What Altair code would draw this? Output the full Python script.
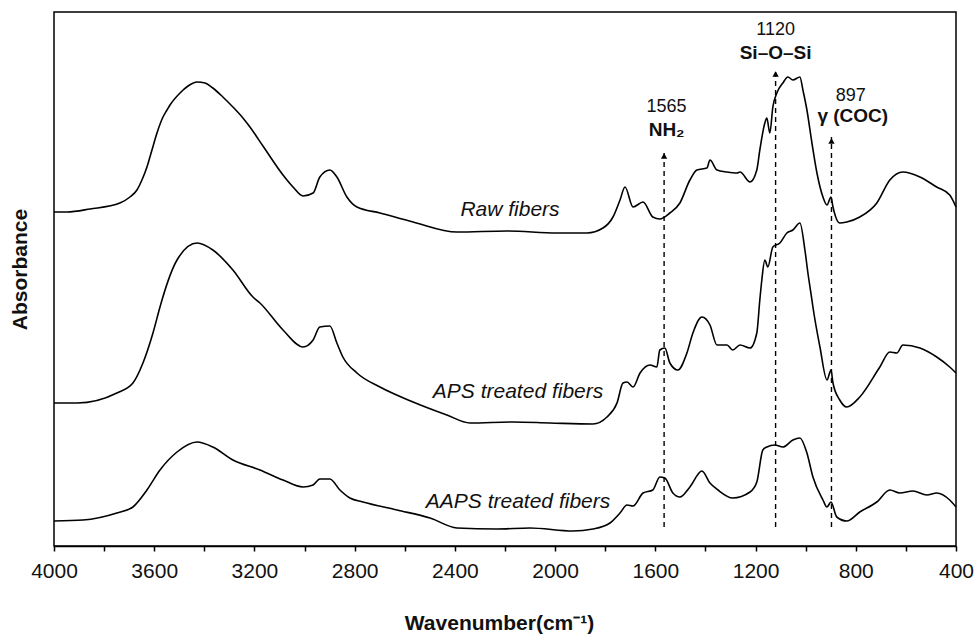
import altair as alt
import pandas as pd

FONT = "Liberation Sans"

# ---- spectra (wavenumber, stacked absorbance in arbitrary units) ----
raw_wn = [4000, 3948, 3856, 3737, 3697, 3669, 3649, 3629, 3609, 3589, 3565, 3549, 3537, 3497, 3465,
          3429, 3397, 3366, 3326, 3286, 3246, 3218, 3166, 3086, 3046,
          3006, 2966, 2939, 2899, 2871, 2831, 2791, 2699, 2567, 2392, 2192, 1993, 1873, 1809, 1769,
          1741, 1721, 1689, 1649, 1610, 1582, 1542, 1502, 1462, 1434, 1394, 1382, 1354, 1314, 1274,
          1262, 1222, 1195, 1183, 1163, 1155, 1143, 1131, 1115, 1091, 1071, 1051, 1023, 1011, 995,
          975, 955, 931, 915, 899, 891, 864, 836, 784, 716, 664, 612, 544, 477, 425, 400]
raw_ab = [334, 334, 337, 343, 349, 356, 366, 379, 396, 413, 429, 436, 441, 453, 460,
          464, 463, 458, 449, 439, 428, 419, 400, 371, 359,
          350, 353, 369, 376, 369, 349, 339, 333, 324, 314, 315, 313, 313, 318, 329,
          346, 359, 339, 344, 329, 327, 333, 343, 366, 376, 378, 386, 376, 374, 373,
          374, 364, 376, 396, 423, 428, 413, 439, 453, 463, 469, 466, 469, 456, 436,
          403, 373, 349, 341, 349, 339, 323, 324, 329, 343, 366, 374, 369, 359, 351, 339]

aps_wn = [4000, 3908, 3749, 3685, 3645, 3605, 3577, 3569, 3509, 3429, 3366, 3286, 3206, 3178, 3086,
          3006, 2966, 2939, 2899, 2871, 2847, 2791, 2699, 2567, 2432, 2340, 2168, 2021, 1849, 1793,
          1753, 1729, 1713, 1689, 1661, 1621, 1594, 1582, 1562, 1542, 1510, 1474, 1450, 1414, 1382,
          1354, 1314, 1291, 1262, 1222, 1195, 1183, 1175, 1163, 1151, 1131, 1103, 1075, 1051, 1023,
          1003, 991, 975, 971, 943, 915, 899, 891, 864, 836, 784, 704, 664, 636, 612, 544, 477, 425, 400]
aps_ab = [143, 143, 153, 163, 183, 213, 239, 246, 286, 303, 296, 276, 249, 243, 216,
          199, 206, 219, 220, 203, 189, 173, 159, 144, 131, 123, 124, 123, 122, 129,
          143, 163, 164, 159, 173, 181, 179, 196, 198, 183, 176, 193, 213, 229, 221,
          201, 201, 196, 201, 198, 213, 246, 266, 286, 279, 299, 303, 313, 316, 323,
          296, 273, 246, 239, 199, 166, 176, 163, 146, 139, 149, 179, 194, 193, 201, 198, 189, 179, 173]

aaps_wn = [4000, 3884, 3749, 3685, 3629, 3577, 3509, 3429, 3366, 3286, 3178, 3086, 3006, 2966, 2939,
           2899, 2859, 2819, 2767, 2631, 2499, 2392, 2232, 2101, 1929, 1849, 1781, 1741, 1713, 1689,
           1649, 1610, 1582, 1562, 1530, 1502, 1462, 1414, 1382, 1350, 1291, 1222, 1195, 1171, 1155,
           1123, 1091, 1051, 1023, 995, 971, 931, 915, 899, 876, 836, 784, 716, 664, 624, 572, 516,
           477, 425, 400]
aaps_ab = [25, 26, 33, 39, 56, 76, 94, 104, 99, 86, 76, 66, 59, 61, 67,
           67, 56, 48, 44, 36, 28, 18, 17, 18, 15, 17, 23, 33, 41, 40,
           53, 56, 69, 68, 53, 49, 59, 75, 63, 56, 48, 54, 64, 96, 99,
           101, 99, 106, 108, 93, 69, 46, 39, 44, 29, 25, 34, 44, 56, 53, 55, 51,
           53, 46, 39]

# ---- annotations ----
mark_wn = [1565, 1120, 897]
mark_bottom = [19, 19, 19]
mark_top = [394, 476, 409]
num_text = ["1565", "1120", "897"]
num_wn = [1555, 1120, 820]
num_ab = [439, 516, 450]
name_text = ["NH\u2082", "Si\u2013O\u2013Si", "\u03b3 (COC)"]
name_wn = [1555, 1120, 812]
name_ab = [416, 493, 430]
curve_text = ["Raw fibers", "APS treated fibers", "AAPS treated fibers"]
curve_wn = [2180, 2148, 2148]
curve_ab = [336, 154, 44]

spec = pd.concat([
    pd.DataFrame({"wn": raw_wn, "ab": raw_ab, "s": "Raw"}),
    pd.DataFrame({"wn": aps_wn, "ab": aps_ab, "s": "APS"}),
    pd.DataFrame({"wn": aaps_wn, "ab": aaps_ab, "s": "AAPS"}),
])
rules = pd.DataFrame({"wn": mark_wn, "ab": mark_bottom, "ab2": mark_top})
arrows = pd.DataFrame({"wn": mark_wn, "ab": [t - 4 for t in mark_top]})
nums = pd.DataFrame({"wn": num_wn, "ab": num_ab, "t": num_text})
names = pd.DataFrame({"wn": name_wn, "ab": name_ab, "t": name_text})
curves = pd.DataFrame({"wn": curve_wn, "ab": curve_ab, "t": curve_text})

xscale = alt.Scale(domain=[400, 4000], reverse=True, nice=False, zero=False)
yscale = alt.Scale(domain=[0, 534], nice=False, zero=False)

x_enc = alt.X(
    "wn:Q", scale=xscale,
    axis=alt.Axis(
        values=list(range(400, 4001, 200)), format="d",
        labelExpr="datum.value % 400 == 0 ? datum.label : ''",
        title="Wavenumber(cm\u207b\u00b9)", grid=False,
        domainColor="black", domainWidth=1.5, tickColor="black", tickWidth=1.5, tickSize=5,
        labelFont=FONT, labelFontSize=21, labelColor="#111", labelPadding=9,
        labelFlush=False, labelOverlap=False,
        titleFont=FONT, titleFontSize=21, titleFontWeight="bold", titleColor="#111",
        titleX=445, titleY=77, titleBaseline="middle", titleAlign="center",
    ),
)
y_enc = alt.Y(
    "ab:Q", scale=yscale,
    axis=alt.Axis(
        title="Absorbance", labels=False, ticks=False, domain=False, grid=False,
        titleFont=FONT, titleFontSize=21, titleFontWeight="bold", titleColor="#111",
        titleX=-34, titleY=257, titleBaseline="middle", titleAlign="center",
    ),
)

lines = alt.Chart(spec).mark_line(color="black", strokeWidth=1.6, interpolate="monotone").encode(
    x=x_enc, y=y_enc, detail="s:N", order=alt.Order("wn:Q", sort="descending")
)
dash = alt.Chart(rules).mark_rule(color="black", strokeWidth=1.4, strokeDash=[5, 4]).encode(
    x="wn:Q", y="ab:Q", y2="ab2:Q"
)
heads = alt.Chart(arrows).mark_point(shape="triangle-up", filled=True, color="black", size=40, opacity=1).encode(
    x="wn:Q", y="ab:Q"
)
num_lbl = alt.Chart(nums).mark_text(font=FONT, fontSize=18, color="#111", baseline="middle", align="center").encode(
    x="wn:Q", y="ab:Q", text="t:N"
)
name_lbl = alt.Chart(names).mark_text(font=FONT, fontSize=19, fontWeight="bold", color="#111", baseline="middle", align="center").encode(
    x="wn:Q", y="ab:Q", text="t:N"
)
curve_lbl = alt.Chart(curves).mark_text(font=FONT, fontSize=21, fontStyle="italic", color="#111", baseline="middle", align="center").encode(
    x="wn:Q", y="ab:Q", text="t:N"
)

chart = alt.layer(lines, dash, heads, num_lbl, name_lbl, curve_lbl).properties(
    width=902, height=534,
    autosize=alt.AutoSizeParams(type="none"),
    padding={"left": 54, "top": 12, "right": 21, "bottom": 88},
    background="white",
).configure_view(stroke="black", strokeWidth=1.5)

chart.save("out.html", embed_options={"renderer": "svg", "actions": False})
